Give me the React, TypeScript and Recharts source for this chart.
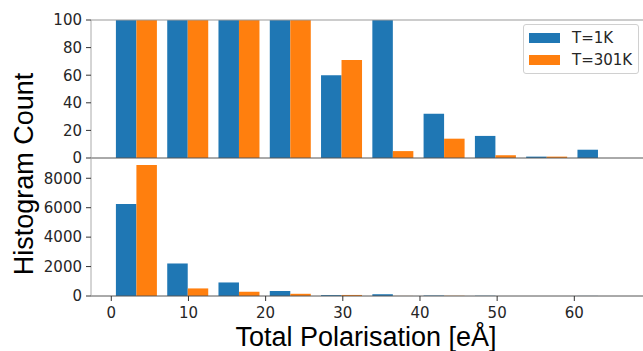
import { Bar, BarChart, Legend, ReferenceLine, XAxis, YAxis } from "recharts";

// histogram bins (centre of each bin, eÅ)
const binCentres = [3.27, 9.92, 16.56, 23.21, 29.85, 36.5, 43.14, 49.79, 56.43, 63.08];
const countsCold = [6260, 2210, 920, 340, 60, 120, 32, 16, 1, 6];
const countsHot = [8900, 515, 290, 150, 71, 5, 14, 2, 1, 0];
const seriesNames = ["T=1K", "T=301K"];

const xTicks = [0, 10, 20, 30, 40, 50, 60];
const topTicks = [0, 20, 40, 60, 80, 100];
const bottomTicks = [0, 2000, 4000, 6000, 8000];

const BLUE = "#1f77b4";
const ORANGE = "#ff7f0e";
const W = 643;
const H = 351;
const X_DOMAIN: [number, number] = [-2.63, 68.9];
const tickFont = { fontSize: 15, fontFamily: "DejaVu Sans", fill: "#262626" };

const data = binCentres.map((x, i) => ({ x, cold: countsCold[i], hot: countsHot[i] }));

function LegendBox() {
  const colours = [BLUE, ORANGE];
  return (
    <div
      style={{
        position: "relative",
        width: 116,
        height: 50,
        border: "1px solid #d0d0d0",
        borderRadius: 3,
        background: "rgba(255,255,255,0.8)",
        boxSizing: "border-box",
        fontFamily: "DejaVu Sans",
        fontSize: 15,
        color: "#262626",
      }}
    >
      {seriesNames.map((name, i) => (
        <div key={name}>
          <div
            style={{
              position: "absolute",
              left: 5,
              top: 8 + i * 22,
              width: 31,
              height: 10,
              background: colours[i],
            }}
          />
          <div style={{ position: "absolute", left: 48, top: 3 + i * 22, lineHeight: "20px" }}>{name}</div>
        </div>
      ))}
    </div>
  );
}

export default function App() {
  return (
    <div style={{ position: "absolute", left: 0, top: 0, width: W, height: H, overflow: "hidden", background: "#fff" }}>
      {/* lower panel: full range */}
      <div style={{ position: "absolute", left: 0, top: 0 }}>
        <BarChart width={W} height={H} data={data} margin={{ top: 159, right: 0, bottom: 25, left: 0 }} barGap={0} barSize={20.5}>
          <XAxis
            dataKey="x"
            type="number"
            domain={X_DOMAIN}
            allowDataOverflow
            ticks={xTicks}
            interval={0}
            height={30}
            tickSize={5}
            tickMargin={6}
            tick={tickFont}
            axisLine={{ stroke: "#555" }}
            tickLine={{ stroke: "#333" }}
          />
          <YAxis
            width={91}
            domain={[0, 9310]}
            allowDataOverflow
            ticks={bottomTicks}
            interval={0}
            tickSize={5}
            tickMargin={4}
            tick={tickFont}
            axisLine={{ stroke: "#aaa" }}
            tickLine={{ stroke: "#333" }}
          />
          <Bar dataKey="cold" fill={BLUE} isAnimationActive={false} />
          <Bar dataKey="hot" fill={ORANGE} isAnimationActive={false} />
        </BarChart>
      </div>
      {/* upper panel: zoom on 0-100 */}
      <div style={{ position: "absolute", left: 0, top: 0 }}>
        <BarChart width={W} height={H} data={data} margin={{ top: 20, right: 0, bottom: H - 158, left: 0 }} barGap={0} barSize={20.5}>
          <XAxis dataKey="x" type="number" domain={X_DOMAIN} allowDataOverflow hide />
          <YAxis
            width={91}
            domain={[0, 100]}
            allowDataOverflow
            ticks={topTicks}
            interval={0}
            tickSize={5}
            tickMargin={4}
            tick={tickFont}
            axisLine={{ stroke: "#aaa" }}
            tickLine={{ stroke: "#333" }}
          />
          <Bar dataKey="cold" name={seriesNames[0]} fill={BLUE} isAnimationActive={false} />
          <Bar dataKey="hot" name={seriesNames[1]} fill={ORANGE} isAnimationActive={false} />
          <ReferenceLine y={100} stroke="#999" />
          <ReferenceLine y={0} stroke="#555" />
          <Legend
            content={<LegendBox />}
            layout="vertical"
            align="center"
            verticalAlign="middle"
            wrapperStyle={{ left: 523, top: 24, width: 116 }}
          />
        </BarChart>
      </div>
      <svg width={W} height={H} style={{ position: "absolute", left: 0, top: 0, pointerEvents: "none" }}>
        <text x={366} y={346} textAnchor="middle" fontFamily="Liberation Sans" fontSize={27} fill="#000">
          Total Polarisation [eÅ]
        </text>
        <text
          x={0}
          y={0}
          transform="translate(33,174) rotate(-90)"
          textAnchor="middle"
          fontFamily="Liberation Sans"
          fontSize={27}
          fill="#000"
        >
          Histogram Count
        </text>
      </svg>
    </div>
  );
}
